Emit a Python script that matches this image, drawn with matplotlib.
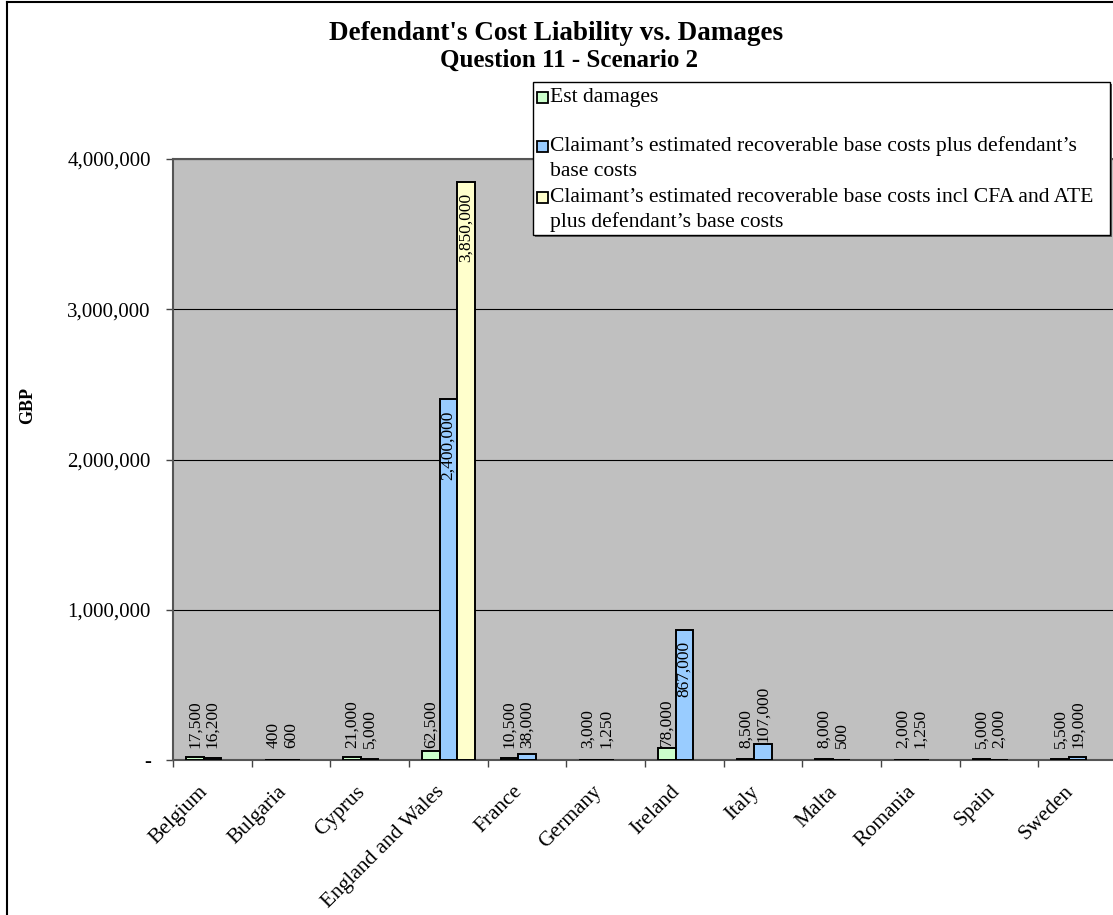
import numpy as np
import matplotlib
matplotlib.use("Agg")
import matplotlib.pyplot as plt
import matplotlib.transforms as mtransforms
from matplotlib.patches import Rectangle
from matplotlib.lines import Line2D

countries = ["Belgium", "Bulgaria", "Cyprus", "England and Wales", "France", "Germany",
             "Ireland", "Italy", "Malta", "Romania", "Spain", "Sweden"]
est_damages = [17500, 400, 21000, 62500, 10500, 3000, 78000, 8500, 8000, 2000, 5000, 5500]
base_costs = [16200, 600, 5000, 2400000, 38000, 1250, 867000, 107000, 500, 1250, 2000, 19000]
cfa_ate_costs = [np.nan, np.nan, np.nan, 3850000, np.nan, np.nan,
                 np.nan, np.nan, np.nan, np.nan, np.nan, np.nan]
series_names = ["Est damages",
                "Claimant’s estimated recoverable base costs plus defendant’s\nbase costs",
                "Claimant’s estimated recoverable base costs incl CFA and ATE\nplus defendant’s base costs"]
colors = ["#CCFFCC", "#99CCFF", "#FFFFCC"]
yticks = [0, 1000000, 2000000, 3000000, 4000000]

W, H = 1113, 915
plt.rcParams["font.family"] = ["Liberation Serif", "DejaVu Serif"]

fig = plt.figure(figsize=(W / 100, H / 100), dpi=100)
fig.patch.set_facecolor("white")


def fx(x):
    return x / W


def fy(y):
    return 1 - y / H


ax = fig.add_axes([fx(173), fy(760), (1117 - 173) / W, (760 - 159) / H])
ax.set_facecolor("#C0C0C0")

n = len(countries)
centers = np.arange(n) + 0.5
bw = 1 / 4.5
all_series = [est_damages, base_costs, cfa_ate_costs]

for i, vals in enumerate(all_series):
    xs = centers + (i - 1) * bw
    v = np.array(vals, dtype=float)
    ok = ~np.isnan(v)
    ax.bar(xs[ok], v[ok], width=bw, color=colors[i], edgecolor="black",
           linewidth=1.4, zorder=3)
    for x, val in zip(xs[ok], v[ok]):
        txt = f"{val:,.0f}"
        if val > 500000:
            ax.annotate(txt, xy=(x, val), xytext=(0, -8), textcoords="offset points",
                        rotation=90, ha="center", va="top", fontsize=12.5, zorder=4)
        else:
            ax.annotate(txt, xy=(x, max(val, 66667)), xytext=(0, 1.5),
                        textcoords="offset points", rotation=90, ha="center",
                        va="bottom", fontsize=12.5, zorder=4)

ax.set_xlim(0, n)
ax.set_ylim(0, 4000000)
ax.set_yticks(yticks)
ax.set_yticklabels(["-" if t == 0 else f"{t:,.0f}" for t in yticks], fontsize=15)
ax.yaxis.grid(True, color="black", linewidth=0.8)
ax.set_axisbelow(True)

# tick marks at the category boundaries, names at the centres
ax.set_xticks(np.arange(n + 1))
ax.set_xticklabels([])
ax.tick_params(axis="x", length=5, width=1, color="#444444")
ax.tick_params(axis="y", length=5, width=1, color="#444444", pad=11)
lab_trans = ax.get_xaxis_transform() + mtransforms.ScaledTranslation(
    -7 / 100, -29 / 100, fig.dpi_scale_trans)
for c, name in zip(centers, countries):
    ax.text(c, 0, name, transform=lab_trans, rotation=45, ha="right", va="center",
            rotation_mode="anchor", fontsize=15.5, clip_on=False)

for side in ["left", "bottom", "top", "right"]:
    ax.spines[side].set_color("#555555")
    ax.spines[side].set_linewidth(1.5)

fig.text(fx(556), fy(40), "Defendant's Cost Liability vs. Damages", ha="center",
         va="baseline", fontsize=19.5, fontweight="bold")
fig.text(fx(569), fy(67), "Question 11 - Scenario 2", ha="center", va="baseline",
         fontsize=18, fontweight="bold")
fig.text(fx(28), fy(405), "GBP", rotation=90, ha="center", va="center",
         fontsize=13, fontweight="bold")

# chart border
fig.add_artist(Line2D([fx(7), fx(7)], [fy(2), 0], color="black", linewidth=1.5))
fig.add_artist(Line2D([fx(7), 1], [fy(2), fy(2)], color="black", linewidth=1.5))

# legend drawn by hand
lx0, lx1, ly0, ly1 = 533, 1110, 82, 235
fig.add_artist(Rectangle((fx(lx0 + 2), fy(ly1 + 2)), (lx1 - lx0) / W, (ly1 - ly0) / H,
                         transform=fig.transFigure, facecolor="#606060", edgecolor="none"))
fig.add_artist(Rectangle((fx(lx0), fy(ly1)), (lx1 - lx0) / W, (ly1 - ly0) / H,
                         transform=fig.transFigure, facecolor="white", edgecolor="black",
                         linewidth=1))
rows = [102, 151, 202]
for name, c, ry in zip(series_names, colors, rows):
    fig.add_artist(Rectangle((fx(537), fy(ry + 1)), 11 / W, 11 / H,
                             transform=fig.transFigure, facecolor=c, edgecolor="black",
                             linewidth=1.3))
    for k, line in enumerate(name.split("\n")):
        fig.text(fx(550), fy(ry + k * 25.5), line, ha="left", va="baseline",
                 fontsize=15.6)

fig.savefig("out.png", dpi=100)
